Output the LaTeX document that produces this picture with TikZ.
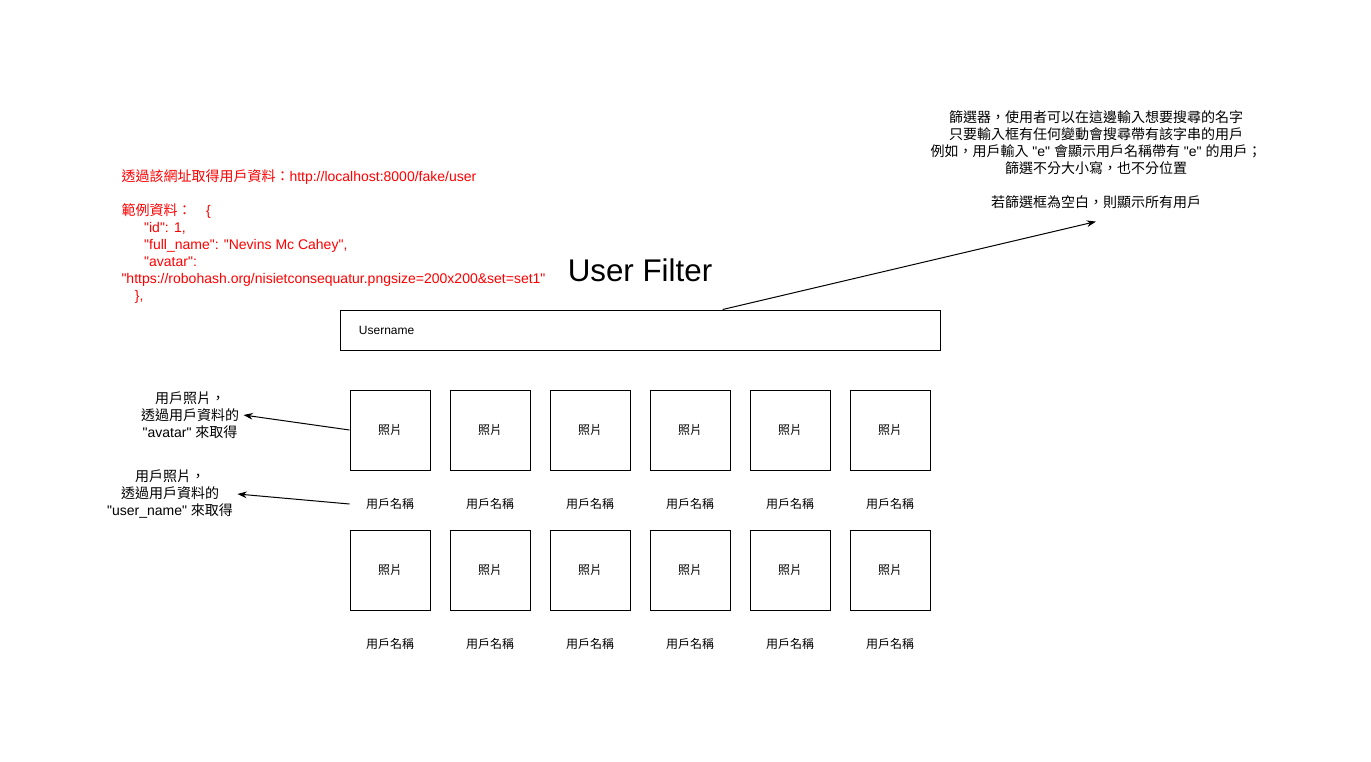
\documentclass[tikz,border=0pt]{standalone}
\usepackage{fontspec}
\setmainfont{Liberation Sans}[Ligatures=TeXOff]
\newfontfamily\cjkfont{Noto Sans CJK TC}
\newcommand{\zh}[1]{{\cjkfont #1}}
\usetikzlibrary{arrows.meta}

\begin{document}
\begin{tikzpicture}[x=0.75pt, y=-0.75pt, line width=0.75pt,
    small/.style={font=\fontsize{9}{10.8}\selectfont},
    note/.style={font=\fontsize{10.5}{12.75}\selectfont, align=center, inner sep=3pt},
    photo/.style={draw, small, minimum width=60pt, minimum height=60pt},
    label/.style={small, minimum width=60pt, inner sep=0pt},
    arr/.style={-{Stealth[length=7pt, width=5pt]}}]

    \useasboundingbox (0,0) rectangle (1371,761);

    \node[font=\fontsize{23.5}{28}\selectfont] (title) at (640,270) {User Filter};

    \node[note, align=left, anchor=north west, text=red] (apinote) at (117,165)
        {\zh{透過該網址取得用戶資料：}http://localhost:8000/fake/user\\[12.75pt]
         \zh{範例資料：}\hspace{11pt}\{\\
         \hspace{17pt}"id": 1,\\
         \hspace{17pt}"full\_name": "Nevins Mc Cahey",\\
         \hspace{17pt}"avatar":\\
         "https://robohash.org/nisietconsequatur.pngsize=200x200\&set=set1"\\
         \hspace{10pt}\},};

    \node[note] (filternote) at (1096,160)
        {\zh{篩選器，使用者可以在這邊輸入想要搜尋的名字}\\
         \zh{只要輸入框有任何變動會搜尋帶有該字串的用戶}\\
         \zh{例如，用戶輸入} "e" \zh{會顯示用戶名稱帶有} "e" \zh{的用戶；}\\
         \zh{篩選不分大小寫，也不分位置}\\[12.75pt]
         \zh{若篩選框為空白，則顯示所有用戶}};

    \node[draw, minimum width=450pt, minimum height=30pt] (namefield) at (640,330) {};
    \node[small, anchor=west] (fieldtext) at (354,330) {Username};

    \foreach \i in {1,...,6} {
        \node[photo] (pa\i) at (290+\i*100,430) {\zh{照片}};
        \node[label] (na\i) at (290+\i*100,504) {\zh{用戶名稱}};
        \node[photo] (pb\i) at (290+\i*100,570) {\zh{照片}};
        \node[label] (nb\i) at (290+\i*100,644) {\zh{用戶名稱}};
    }

    \node[note] (avatarnote) at (190,415)
        {\zh{用戶照片，}\\ \zh{透過用戶資料的}\\ "avatar" \zh{來取得}};
    \node[note] (usernote) at (170,494)
        {\zh{用戶照片，}\\ \zh{透過用戶資料的}\\ "user\_name" \zh{來取得}};

    \draw[arr] ([xshift=62pt]namefield.north) -- ([yshift=-6pt]filternote.south);
    \draw[arr] (pa1.west) -- (avatarnote.east);
    \draw[arr] (na1.west) -- (usernote.east);
\end{tikzpicture}
\end{document}
